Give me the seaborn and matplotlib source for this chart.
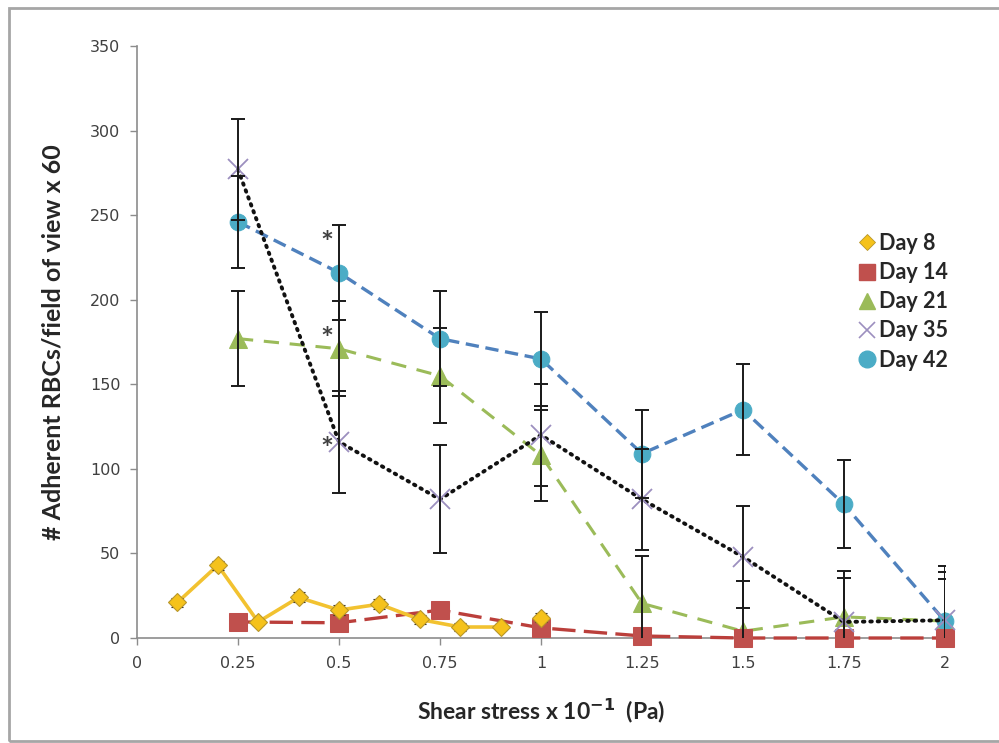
import numpy as np
import pandas as pd
import matplotlib
matplotlib.use("Agg")
import matplotlib.pyplot as plt
from matplotlib.lines import Line2D
from matplotlib.patches import Rectangle
import seaborn as sns

# ---- data ----
stress = [0.25, 0.5, 0.75, 1.0, 1.25, 1.5, 1.75, 2.0]

day8_x = [0.1, 0.2, 0.3, 0.4, 0.5, 0.6, 0.7, 0.8, 0.9, 1.0]
day8_y = [21, 43, 9.5, 24, 16.5, 20, 11, 6.5, 6.5, 12]
day8_err = [2.5, 2.5, 2, 3, 3, 3, 2.5, 2.5, 2, 2.5]

day14_y = [9.5, 9, 16.5, 6, 1.2, 0, 0, 0]

day21_y = [177, 171, 155, 108, 20.5, 4, 12.5, 10]
day21_err = [28, 28, 28, 27, 28, 30, 23, 25]

day35_y = [277, 116, 82, 120, 82, 48, 9.5, 10.5]
day35_err = [30, 30, 32, 30, 30, 30, 30, 32]

day42_y = [246, 216, 177, 165, 109, 135, 79, 10]
day42_err = [27, 28, 28, 28, 26, 27, 26, 29]

# significance marks at 0.5 (Day 42, Day 21, Day 35)
star_x = [0.47, 0.47, 0.47]
star_y = [233, 176, 111]

y_ticks = [0, 50, 100, 150, 200, 250, 300, 350]
x_ticks = [0, 0.25, 0.5, 0.75, 1, 1.25, 1.5, 1.75, 2]
x_ticklabels = ["0", "0.25", "0.5", "0.75", "1", "1.25", "1.5", "1.75", "2"]

sns.set_style("white")
plt.rcParams['font.family'] = ['DejaVu Sans']

fig = plt.figure(figsize=(9.99, 7.43), dpi=100)
ax = fig.add_axes([0.1371, 0.1413, 0.8088, 0.7968])

# outer gray frame like the pasted Excel chart
fig.patches.append(Rectangle((9 / 999, 2 / 743), 1.2, 733 / 743, transform=fig.transFigure,
                             fill=False, edgecolor='#a6a6a6', linewidth=2))

# ---- Day 8 ----
d8 = pd.DataFrame({"x": day8_x, "y": day8_y})
sns.lineplot(data=d8[d8.x <= 0.9], x="x", y="y", ax=ax, color='#f2c230', lw=2.6,
             sort=False, zorder=6)
ax.errorbar(day8_x, day8_y, yerr=day8_err, fmt='D', ms=9, mfc='#f5c21b', mec='#b8962a',
            mew=0.8, ecolor='#222222', elinewidth=1, capsize=4, zorder=7, clip_on=False)

# ---- Day 14 ----
d14 = pd.DataFrame({"x": stress, "y": day14_y})
sns.lineplot(data=d14, x="x", y="y", ax=ax, color='#bb3f3b', lw=2.4,
             marker='s', markersize=13, markerfacecolor='#c0504d', markeredgecolor='#c0504d',
             dashes=False, zorder=5, clip_on=False)
ax.lines[-1].set_dashes([7, 2.5])

# ---- Day 21 ----
d21 = pd.DataFrame({"x": stress, "y": day21_y})
sns.lineplot(data=d21, x="x", y="y", ax=ax, color='#9bbb59', lw=2.2, marker='^',
             markersize=13, markerfacecolor='#9bbb59', markeredgecolor='#9bbb59',
             zorder=4, clip_on=False)
ax.lines[-1].set_dashes([5, 3.5])
ax.errorbar(stress, day21_y, yerr=day21_err, fmt='none', ecolor='#1a1a1a',
            elinewidth=1.4, capsize=5, capthick=1.4, zorder=8)

# ---- Day 35 ----
d35 = pd.DataFrame({"x": stress, "y": day35_y})
sns.lineplot(data=d35, x="x", y="y", ax=ax, color='#111111', lw=2.8, zorder=5)
ax.lines[-1].set_dashes([0.4, 1.5])
ax.lines[-1].set_dash_capstyle('round')
ax.plot(stress, day35_y, ls='none', marker='x', ms=15, mew=1.3, color='#9c8fbf',
        zorder=5, clip_on=False)
ax.errorbar(stress, day35_y, yerr=day35_err, fmt='none', ecolor='#1a1a1a',
            elinewidth=1.4, capsize=5, capthick=1.4, zorder=8)

# ---- Day 42 ----
d42 = pd.DataFrame({"x": stress, "y": day42_y})
sns.lineplot(data=d42, x="x", y="y", ax=ax, color='#4f81bd', lw=2.4, marker='o',
             markersize=12, markerfacecolor='#4bacc6', markeredgecolor='#4bacc6',
             zorder=4, clip_on=False)
ax.lines[-1].set_dashes([4, 2])
ax.errorbar(stress, day42_y, yerr=day42_err, fmt='none', ecolor='#1a1a1a',
            elinewidth=1.4, capsize=5, capthick=1.4, zorder=8)

for sx, sy in zip(star_x, star_y):
    ax.text(sx, sy, "*", fontsize=22, fontweight='bold', color='#404040',
            ha='center', va='center', family=['Lato', 'DejaVu Sans'])

ax.set_xlim(0, 2)
ax.set_ylim(0, 350)
ax.set_xticks(x_ticks)
ax.set_xticklabels(x_ticklabels)
ax.set_yticks(y_ticks)
ax.tick_params(axis='both', direction='out', length=5, width=1, color='#8c8c8c',
               labelsize=11.5, labelcolor='#404040', bottom=True, left=True)
ax.tick_params(axis='x', pad=8)
ax.tick_params(axis='y', pad=7)
for side in ['top', 'right']:
    ax.spines[side].set_visible(False)
for side in ['left', 'bottom']:
    ax.spines[side].set_color('#8c8c8c')
    ax.spines[side].set_linewidth(1.2)

ax.set_xlabel(r"Shear stress x 10$^{\mathbf{-1}}$  (Pa)", fontsize=16.5, fontweight='bold',
              family=['Lato', 'DejaVu Sans'], labelpad=18)
ax.set_ylabel("# Adherent RBCs/field of view x 60", fontsize=18, fontweight='bold',
              family=['Lato', 'DejaVu Sans'], labelpad=18)

handles = [
    Line2D([], [], ls='none', marker='D', ms=8, mfc='#f5c21b', mec='#b8962a', mew=0.6),
    Line2D([], [], ls='none', marker='s', ms=12, mfc='#c0504d', mec='#c0504d'),
    Line2D([], [], ls='none', marker='^', ms=12, mfc='#9bbb59', mec='#9bbb59'),
    Line2D([], [], ls='none', marker='x', ms=12, mew=1.2, color='#9c8fbf'),
    Line2D([], [], ls='none', marker='o', ms=12, mfc='#4bacc6', mec='#4bacc6'),
]
leg = ax.legend(handles, ["Day 8", "Day 14", "Day 21", "Day 35", "Day 42"],
                loc='upper left', bbox_to_anchor=(0.872, 0.717), frameon=False,
                handlelength=0.6, handletextpad=0.25, labelspacing=0.38,
                prop={'family': ['Lato', 'DejaVu Sans'], 'weight': 'bold', 'size': 15.5})

fig.savefig("out.png", dpi=100)
